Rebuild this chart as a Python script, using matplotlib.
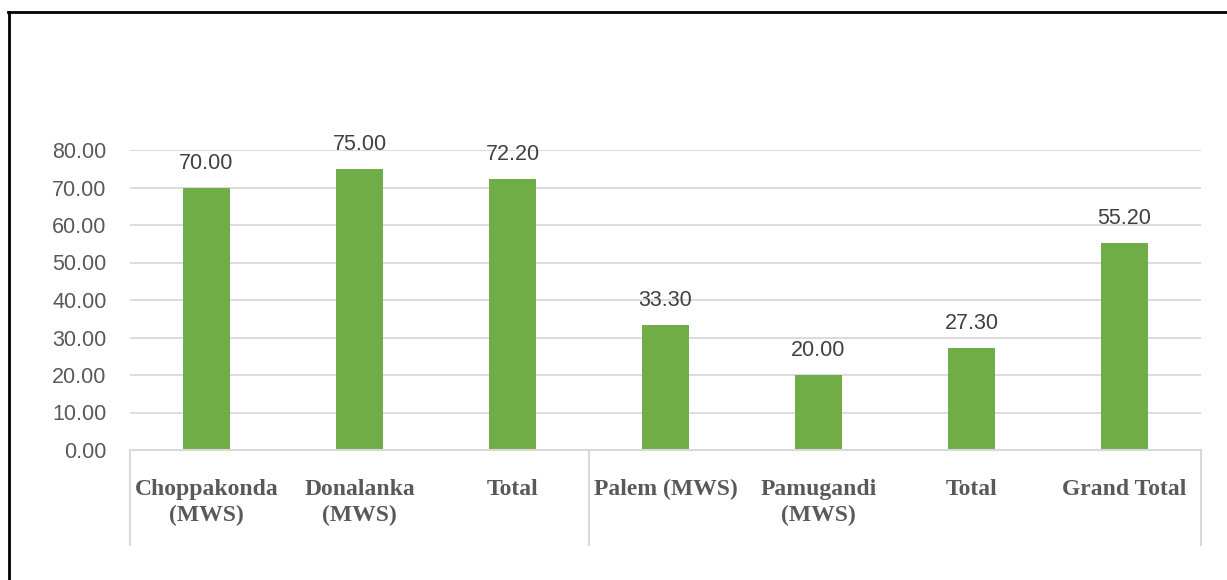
import matplotlib
matplotlib.use("Agg")
import matplotlib.pyplot as plt
import matplotlib.transforms as mtransforms
from matplotlib.lines import Line2D

# ---- data ----
categories = ["Choppakonda\n(MWS)", "Donalanka\n(MWS)", "Total",
              "Palem (MWS)", "Pamugandi\n(MWS)", "Total", "Grand Total"]
values = [70.00, 75.00, 72.20, 33.30, 20.00, 27.30, 55.20]
y_ticks = [0, 10, 20, 30, 40, 50, 60, 70, 80]
group_edges = [-0.5, 2.5, 6.5]

W, H = 1227, 580
fig = plt.figure(figsize=(W / 100, H / 100), dpi=100)
ax = fig.add_axes([130 / W, (H - 450) / H, (1201 - 130) / W, 300 / H])

x = list(range(len(values)))
ax.bar(x, values, width=0.31, color="#70AD47", zorder=3)

ax.set_xlim(-0.5, 6.5)
ax.set_ylim(0, 80)
ax.set_yticks(y_ticks)
ax.set_yticklabels([f"{v:.2f}" for v in y_ticks], family="Liberation Sans",
                   fontsize=15.5, color="#595959")
ax.tick_params(axis="y", length=0, pad=17)
ax.set_xticks([])

ax.grid(axis="y", color="#D9D9D9", linewidth=1.3, zorder=0)
for s in ["top", "right", "left"]:
    ax.spines[s].set_visible(False)
ax.spines["bottom"].set_color("#D9D9D9")
ax.spines["bottom"].set_linewidth(1.5)
ax.spines["bottom"].set_zorder(4)

# value labels
for xi, v in zip(x, values):
    ax.annotate(f"{v:.2f}", (xi, v), xytext=(0, 10), textcoords="offset points",
                ha="center", va="bottom", family="Liberation Sans",
                fontsize=15.5, color="#404040")

# category labels
trans = mtransforms.blended_transform_factory(ax.transData, ax.transAxes)
for xi, lab in zip(x, categories):
    ax.annotate(lab, (xi, 0), xycoords=trans, xytext=(0, -21),
                textcoords="offset points", ha="center", va="top",
                family="Liberation Serif", fontweight="bold", fontsize=17,
                color="#595959", linespacing=1.3)

# group separators
for e in group_edges:
    ax.add_line(Line2D([e, e], [0, -95 / 300], transform=trans, color="#D9D9D9",
                       linewidth=1.5, clip_on=False))

# outer frame (left and top)
fig.add_artist(Line2D([9 / W, 9 / W], [0, (H - 12) / H], color="black",
                      linewidth=2, transform=fig.transFigure))
fig.add_artist(Line2D([8 / W, 1], [(H - 12) / H, (H - 12) / H], color="black",
                      linewidth=2, transform=fig.transFigure))

fig.savefig("out.png", dpi=100, facecolor="white")
